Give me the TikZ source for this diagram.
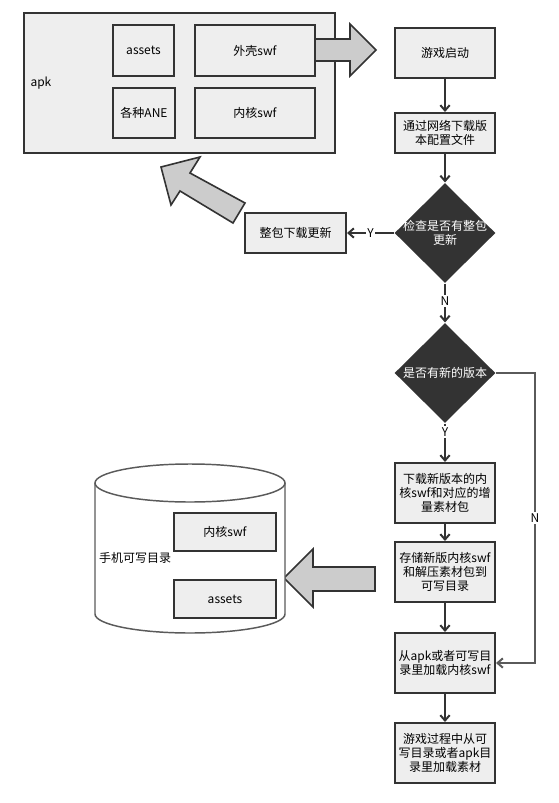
\documentclass[tikz,border=0pt]{standalone}
\usepackage{fontspec}
\setmainfont{Noto Sans CJK SC}
\usetikzlibrary{shapes.geometric,arrows.meta}

\definecolor{edgegray}{RGB}{51,51,51}
\definecolor{boxfill}{RGB}{238,238,238}
\definecolor{arrowfill}{RGB}{204,204,204}
\definecolor{linegray}{RGB}{90,90,90}

\tikzset{every picture/.style={line width=0.75pt},
  box/.style={draw=edgegray, fill=boxfill, line width=1.5pt, inner sep=1pt, align=center, font=\fontsize{9}{10.5}\selectfont},
  dia/.style={shape=diamond, fill=edgegray, inner sep=0pt, minimum width=75.75pt, minimum height=75pt},
  flow/.style={draw=edgegray, line width=1.5pt, -{Straight Barb[length=4pt,width=7pt]}},
  yn/.style={fill=white, inner sep=1pt, font=\fontsize{9}{10.5}\selectfont},
  bigarrow/.style={draw=edgegray, fill=arrowfill, line width=1.2pt, line join=miter}
}

\begin{document}
\begin{tikzpicture}[x=0.75pt,y=0.75pt,yscale=-1,xscale=1]
\useasboundingbox (0,0) rectangle (559,803);

%Shape: apk [id:apk]
\node [box, minimum width=233.25pt, minimum height=105pt] (apk) at (179.5,83) {};
\node [anchor=west, inner sep=0pt, font=\fontsize{9}{10.5}\selectfont] (apklbl) at (30,83) {apk};
\node [box, minimum width=45.75pt, minimum height=38.25pt] (assets) at (143.5,50.5) {assets};
\node [box, minimum width=90pt, minimum height=38.25pt] (shell) at (255,50.5) {外壳swf};
\node [box, minimum width=46.5pt, minimum height=37.5pt] (ane) at (144,113) {各种ANE};
\node [box, minimum width=90pt, minimum height=37.5pt] (core) at (255,113) {内核swf};

%Shape: big arrows
\draw [bigarrow] (315,39) -- (350,39) -- (350,24) -- (376,50) -- (350,76) -- (350,61) -- (315,61) -- cycle;
\draw [bigarrow] (161,167) -- (200,157) -- (190,173) -- (245,203) -- (233,223) -- (180,191) -- (171,205) -- cycle;
\draw [bigarrow] (284,578) -- (313,549) -- (313,567) -- (375,567) -- (375,591) -- (313,591) -- (313,607) -- cycle;

%Shape: phone storage
\draw [draw=linegray, fill=white, line width=1.1pt] (95,483) -- (95,614) arc [start angle=180, end angle=0, x radius=95, y radius=19] -- (285,483);
\draw [draw=linegray, line width=1.1pt] (190,483) ellipse [x radius=95, y radius=19];
\node [inner sep=0pt, font=\fontsize{9}{10.5}\selectfont] (phonelbl) at (135,558) {手机可写目录};
\node [box, minimum width=76.5pt, minimum height=28.5pt] (pcore) at (225,532) {内核swf};
\node [box, minimum width=76.5pt, minimum height=28.5pt] (passets) at (225,599) {assets};

%Flow
\node [box, minimum width=75pt, minimum height=37.5pt] (start) at (445,53) {游戏启动};
\node [box, minimum width=75pt, minimum height=30pt] (cfg) at (445,133) {通过网络下载版\\本配置文件};
\node [dia, label={[text=white, align=center, font=\fontsize{9}{10.5}\selectfont]center:检查是否有整包\\更新}] (chk) at (445,233) {};
\node [box, minimum width=75.75pt, minimum height=30pt] (full) at (295.5,233) {整包下载更新};
\node [dia, label={[text=white, font=\fontsize{9}{10.5}\selectfont]center:是否有新的版本}] (ver) at (445,373) {};
\node [box, minimum width=75pt, minimum height=45pt] (dl) at (445,493) {下载新版本的内\\核swf和对应的增\\量素材包};
\node [box, minimum width=75pt, minimum height=45pt] (store) at (445,572) {存储新版内核swf\\和解压素材包到\\可写目录};
\node [box, minimum width=75pt, minimum height=45pt] (load) at (445,663) {从apk或者可写目\\录里加载内核swf};
\node [box, minimum width=75pt, minimum height=45pt] (play) at (445,753) {游戏过程中从可\\写目录或者apk目\\录里加载素材};
\coordinate (nturn) at (535,373);

%Straight Lines
\draw [flow] (start) -- (cfg);
\draw [flow] (cfg) -- (chk.north);
\draw [flow] (chk.west) -- node [yn] {Y} (full);
\draw [flow] (chk.south) -- node [yn, pos=0.45] {N} (ver.north);
\draw [flow] (ver.south) -- node [yn, pos=0.22] {Y} (dl);
\draw [flow] (dl) -- (store);
\draw [flow] (store) -- (load);
\draw [flow] (load) -- (play);
\draw [flow, draw=linegray] (ver.east) -- (nturn) |- node [yn, pos=0.25] {N} (load.east);

\end{tikzpicture}
\end{document}
